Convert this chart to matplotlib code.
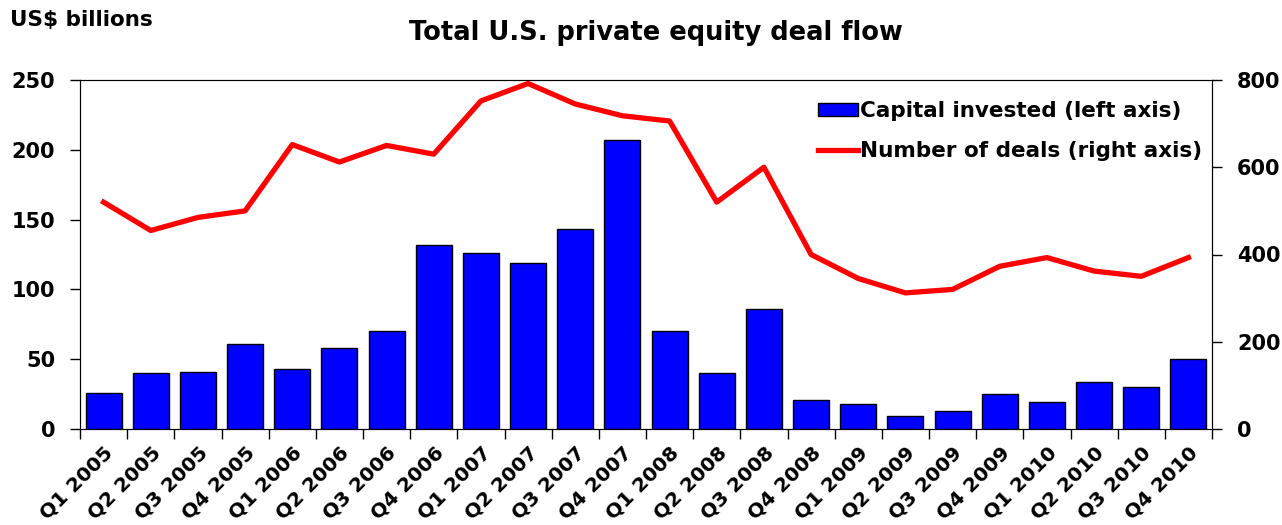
import matplotlib.pyplot as plt
import numpy as np

plt.rcParams['font.family'] = ['DejaVu Sans']
plt.rcParams['font.weight'] = 'bold'

# Quarter labels
quarters = ["Q1 2005", "Q2 2005", "Q3 2005", "Q4 2005",
            "Q1 2006", "Q2 2006", "Q3 2006", "Q4 2006",
            "Q1 2007", "Q2 2007", "Q3 2007", "Q4 2007",
            "Q1 2008", "Q2 2008", "Q3 2008", "Q4 2008",
            "Q1 2009", "Q2 2009", "Q3 2009", "Q4 2009",
            "Q1 2010", "Q2 2010", "Q3 2010", "Q4 2010"]

# Capital invested, US$ billions (left axis)
capital = [26, 40, 41, 61, 43, 58, 70, 132, 126, 119, 143, 207,
           70, 40, 86, 21, 18, 9, 13, 25, 19, 34, 30, 50]

# Number of deals (right axis)
deals = [520, 455, 485, 500, 652, 612, 650, 630, 752, 792, 745, 718,
         706, 520, 600, 400, 345, 312, 320, 373, 393, 362, 350, 393]

fig = plt.figure(figsize=(12.82, 5.25), dpi=100)
ax = fig.add_axes([80 / 1282, 1 - 429 / 525, (1212 - 80) / 1282, 349 / 525])

x = np.arange(len(quarters))
bars = ax.bar(x, capital, width=0.76, color='#0000FF', edgecolor='black',
              linewidth=1.0, label='Capital invested (left axis)', zorder=2)
ax.set_xlim(-0.5, len(quarters) - 0.5)
ax.set_ylim(0, 250)
ax.set_yticks([0, 50, 100, 150, 200, 250])
# category boundaries carry the tick marks, labels sit on the bar centres
ax.set_xticks(np.arange(len(quarters) + 1) - 0.5)
ax.set_xticklabels([])
ax.set_xticks(x, minor=True)
ax.set_xticklabels(quarters, minor=True, rotation=45, ha='right', va='top',
                   rotation_mode='anchor', fontsize=14.5, fontweight='bold')
ax.tick_params(axis='x', which='minor', length=0, pad=10)
ax.tick_params(axis='x', which='major', length=7, direction='out', width=1)
ax.tick_params(axis='y', labelsize=15, length=7, direction='out', width=1,
               pad=11)
for lbl in ax.get_yticklabels():
    lbl.set_fontweight('bold')
for side in ['left', 'right', 'top', 'bottom']:
    ax.spines[side].set_color('#333333')

ax2 = ax.twinx()
line, = ax2.plot(x, deals, color='#FF0000', linewidth=3.8,
                 label='Number of deals (right axis)', zorder=3)
ax2.set_ylim(0, 800)
ax2.set_yticks([0, 200, 400, 600, 800])
ax2.tick_params(axis='y', labelsize=15, length=7, direction='out', width=1,
                pad=11)
for lbl in ax2.get_yticklabels():
    lbl.set_fontweight('bold')

ax2.legend([bars, line], [bars.get_label(), line.get_label()],
           loc='upper left', bbox_to_anchor=(818 / 1282, 1 - 101 / 525),
           bbox_transform=fig.transFigure, frameon=False,
           prop={'size': 15.5, 'weight': 'bold'}, handlelength=1.85,
           handleheight=0.6, handletextpad=0.1, labelspacing=0.95,
           borderpad=0, borderaxespad=0)

fig.text(10 / 1282, 1 - 20 / 525, 'US$ billions', fontsize=15.5,
         fontweight='bold', ha='left', va='center')
fig.text(656 / 1282, 1 - 33 / 525, 'Total U.S. private equity deal flow',
         fontsize=18.5, fontweight='bold', ha='center', va='center')

fig.savefig('out.png', dpi=100)
